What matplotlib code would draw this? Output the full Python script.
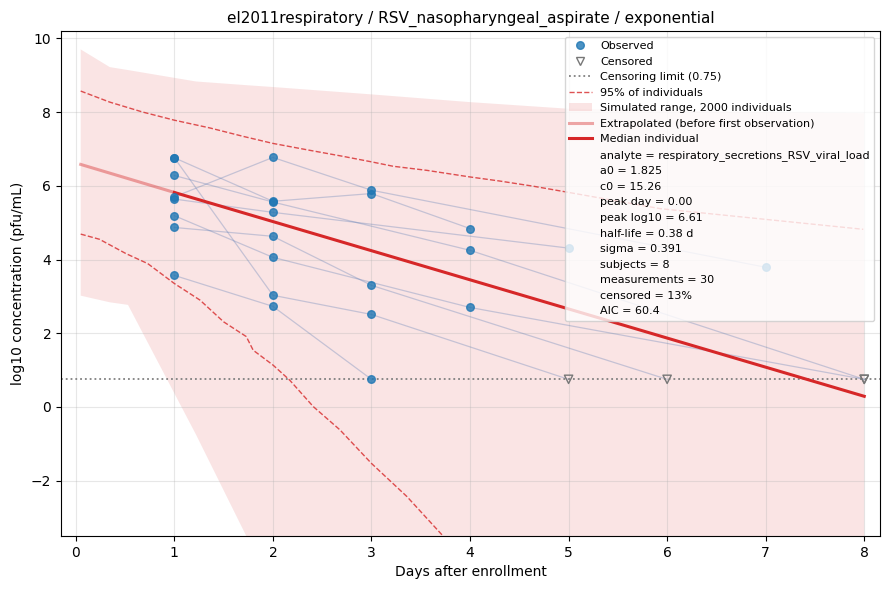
import matplotlib
matplotlib.use("Agg")
import matplotlib.pyplot as plt
from matplotlib.lines import Line2D
from matplotlib.patches import Patch

# observed subjects: (days, values, censored flags)
subj_days = [
    [1, 2, 3, 4],
    [1, 2, 4, 8],
    [1, 2, 3, 5],
    [1, 2, 3, 7],
    [1, 2, 5],
    [1, 2, 4, 8],
    [1, 2, 3, 6],
    [1, 2, 3],
]
subj_vals = [
    [6.76, 5.58, 5.79, 4.84],
    [6.28, 5.56, 4.25, 0.75],
    [6.76, 3.03, 2.51, 0.75],
    [5.70, 6.77, 5.88, 3.79],
    [5.64, 5.28, 4.31],
    [5.19, 4.06, 2.70, 0.75],
    [4.87, 4.63, 3.30, 0.75],
    [3.57, 2.73, 0.75],
]
subj_cens = [
    [0, 0, 0, 0],
    [0, 0, 0, 1],
    [0, 0, 0, 1],
    [0, 0, 0, 0],
    [0, 0, 0],
    [0, 0, 0, 1],
    [0, 0, 0, 1],
    [0, 0, 0],
]
lod = 0.75

# model median
med_days = [1, 2, 3, 4, 5, 6, 7, 8]
med_vals = [5.82, 5.03, 4.24, 3.45, 2.66, 1.87, 1.08, 0.29]
extrap_days = [0.05, 1]
extrap_vals = [6.58, 5.82]

# 95% interval
p_hi_days = [0.05, 0.345, 0.68, 1.0, 1.36, 1.70, 2.0, 2.38, 2.71, 3.0, 3.22, 3.56, 4.0, 4.3, 4.64, 4.96, 5.93, 7.99]
p_hi_vals = [8.57, 8.27, 8.0, 7.78, 7.57, 7.34, 7.15, 6.96, 6.80, 6.65, 6.53, 6.42, 6.24, 6.13, 5.99, 5.84, 5.38, 4.82]
p_lo_days = [0.05, 0.24, 0.51, 0.73, 1.0, 1.26, 1.50, 1.73, 1.80, 2.0, 2.17, 2.41, 2.68, 3.0, 3.36, 3.73, 4.2]
p_lo_vals = [4.69, 4.55, 4.16, 3.89, 3.35, 2.90, 2.31, 1.91, 1.54, 1.14, 0.73, 0.01, -0.62, -1.53, -2.43, -3.51, -4.8]

# simulated range
band_days = [0.05, 0.345, 0.53, 1.22, 1.73, 2.0, 3.0, 4.0, 5.0, 6.0, 7.0, 8.0]
band_hi = [9.70, 9.22, 9.14, 8.83, 8.73, 8.68, 8.48, 8.27, 8.09, 8.04, 8.0, 7.97]
band_lo = [3.02, 2.84, 2.77, -0.75, -3.5, -4.9, -10.0, -15.0, -20.0, -25.0, -30.0, -35.0]

stats = [
    "analyte = respiratory_secretions_RSV_viral_load",
    "a0 = 1.825",
    "c0 = 15.26",
    "peak day = 0.00",
    "peak log10 = 6.61",
    "half-life = 0.38 d",
    "sigma = 0.391",
    "subjects = 8",
    "measurements = 30",
    "censored = 13%",
    "AIC = 60.4",
]

fig, ax = plt.subplots(figsize=(8.89, 5.9), dpi=100)
fig.subplots_adjust(left=0.0686, right=0.9899, top=0.9475, bottom=0.0915)

ax.fill_between(band_days, band_lo, band_hi, color="#d62728", alpha=0.12, linewidth=0)
ax.plot(p_hi_days, p_hi_vals, "--", color="#d62728", alpha=0.8, lw=1)
ax.plot(p_lo_days, p_lo_vals, "--", color="#d62728", alpha=0.8, lw=1)

for d, v in zip(subj_days, subj_vals):
    ax.plot(d, v, color="#4c72b0", alpha=0.3, lw=0.9, zorder=2)

obs_x, obs_y, cen_x, cen_y = [], [], [], []
for d, v, c in zip(subj_days, subj_vals, subj_cens):
    for di, vi, ci in zip(d, v, c):
        if ci:
            cen_x.append(di)
            cen_y.append(vi)
        else:
            obs_x.append(di)
            obs_y.append(vi)

ax.scatter(obs_x, obs_y, s=30, color="#1f77b4", alpha=0.8, zorder=4)
ax.scatter(cen_x, cen_y, s=36, marker="v", facecolors="none", edgecolors="#777777", zorder=4)
ax.axhline(lod, color="grey", linestyle=":", lw=1.3)

ax.plot(extrap_days, extrap_vals, color="#d62728", alpha=0.4, lw=2.2, zorder=3)
ax.plot(med_days, med_vals, color="#d62728", lw=2.2, zorder=3)

ax.set_xlim(-0.15, 8.16)
ax.set_ylim(-3.5, 10.2)
ax.set_xticks(range(0, 9))
ax.grid(alpha=0.3)
ax.set_xlabel("Days after enrollment")
ax.set_ylabel("log10 concentration (pfu/mL)")
ax.set_title("el2011respiratory / RSV_nasopharyngeal_aspirate / exponential", fontsize=11)

handles = [
    Line2D([], [], marker="o", linestyle="none", color="#1f77b4", alpha=0.8, markersize=5.5),
    Line2D([], [], marker="v", linestyle="none", markerfacecolor="none", markeredgecolor="#777777", markersize=6),
    Line2D([], [], color="grey", linestyle=":", lw=1.3),
    Line2D([], [], color="#d62728", linestyle="--", alpha=0.8, lw=1),
    Patch(facecolor="#d62728", alpha=0.12),
    Line2D([], [], color="#d62728", alpha=0.4, lw=2.2),
    Line2D([], [], color="#d62728", lw=2.2),
]
labels = [
    "Observed",
    "Censored",
    "Censoring limit (0.75)",
    "95% of individuals",
    "Simulated range, 2000 individuals",
    "Extrapolated (before first observation)",
    "Median individual",
]
for s in stats:
    handles.append(Line2D([], [], linestyle="none"))
    labels.append(s)

ax.legend(handles, labels, loc="upper right", fontsize=8, framealpha=0.8)

plt.savefig("out.png", dpi=100)
